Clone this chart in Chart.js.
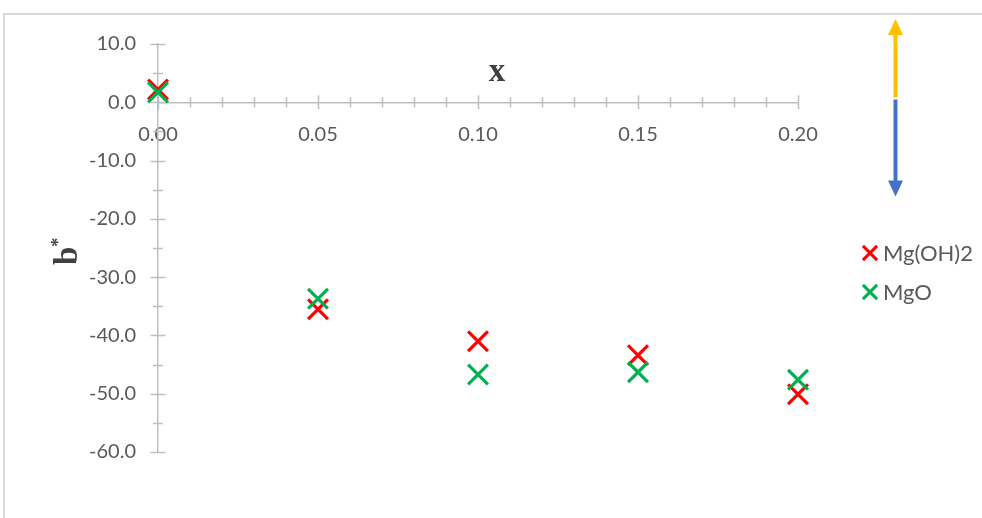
<!DOCTYPE html>
<html>
<head>
<meta charset="utf-8">
<script src="https://cdn.jsdelivr.net/npm/chart.js@4/dist/chart.umd.min.js"></script>
<style>
  html, body { margin: 0; padding: 0; background: #fff; }
  #wrap { position: relative; width: 982px; height: 518px; overflow: hidden; }
  #frame { position: absolute; left: 3px; top: 13px; width: 1100px; height: 700px;
           border-top: 2px solid #d9d9d9; border-left: 2px solid #d9d9d9; }
  #c { position: absolute; left: 0; top: 0; }
</style>
</head>
<body>
<div id="wrap">
  <div id="frame"></div>
  <canvas id="c" width="982" height="518"></canvas>
</div>
<script>
// Composition x and colour coordinate b* for the two magnesium sources
const xValues   = [0.00, 0.05, 0.10, 0.15, 0.20];
const mgOH2     = [2.2, -35.5, -41.0, -43.4, -50.1];
const mgO       = [1.7, -33.7, -46.7, -46.3, -47.6];
const seriesNames = ['Mg(OH)2', 'MgO'];
const seriesColors = ['#FF0000', '#00B050'];

// Axis tick labels
const xTickValues = [0.00, 0.05, 0.10, 0.15, 0.20];
const yTickValues = [10, 0, -10, -20, -30, -40, -50, -60];

const AXIS_COLOR = '#BFBFBF';
const TEXT_COLOR = '#595959';
const TICK_FONT = { family: 'Lato', size: 20 };

function toPoints(xs, ys) {
  return xs.map((x, i) => ({ x: x, y: ys[i] }));
}

// Crossing tick marks (major + minor) on both axes, axis titles, legend and arrows
const decorations = {
  id: 'decorations',
  afterDatasetsDraw(chart) {
    const ctx = chart.ctx;
    const xs = chart.scales.x, ys = chart.scales.y;
    const x0 = xs.getPixelForValue(0);
    const y0 = ys.getPixelForValue(0);
    ctx.save();
    ctx.strokeStyle = AXIS_COLOR;
    ctx.lineWidth = 1.5;
    ctx.beginPath();
    // y axis: major every 10, minor every 5
    for (let v = ys.min; v <= ys.max + 1e-9; v += 5) {
      const p = Math.round(ys.getPixelForValue(v)) + 0.5;
      const half = (Math.abs(v) % 10 === 0) ? 7.5 : 5;
      ctx.moveTo(x0 - half, p);
      ctx.lineTo(x0 + half, p);
    }
    // x axis: major every 0.05, minor every 0.01
    for (let i = 0; i <= 20; i++) {
      const p = Math.round(xs.getPixelForValue(i / 100)) + 0.5;
      const half = (i % 5 === 0) ? 7 : 5;
      ctx.moveTo(p, y0 - half);
      ctx.lineTo(p, y0 + half);
    }
    ctx.stroke();
    ctx.restore();
  },
  afterDraw(chart) {
    const ctx = chart.ctx;
    ctx.save();

    // x axis title
    ctx.fillStyle = '#404040';
    ctx.font = 'bold 33px "Liberation Serif"';
    ctx.textAlign = 'center';
    ctx.textBaseline = 'alphabetic';
    ctx.fillText('x', 497, 80.5);

    // y axis title b* (rotated, superscript star)
    ctx.save();
    ctx.translate(77, 265);
    ctx.rotate(-Math.PI / 2);
    ctx.textAlign = 'left';
    ctx.font = 'bold 33px "Liberation Serif"';
    ctx.fillText('b', 0, 0);
    const bw = ctx.measureText('b').width;
    ctx.font = 'bold 18px "Liberation Serif"';
    ctx.fillText('*', bw, -13);
    ctx.restore();

    // legend
    const ds = chart.data.datasets;
    const legendY = [253, 292];
    ds.forEach((d, i) => {
      ctx.save();
      ctx.strokeStyle = d.borderColor;
      ctx.lineWidth = 3;
      Chart.helpers.drawPoint(ctx, { pointStyle: 'crossRot', radius: 10, borderWidth: 3, rotation: 0 }, 870, legendY[i]);
      ctx.restore();
      ctx.fillStyle = TEXT_COLOR;
      ctx.font = '22px Lato';
      ctx.textAlign = 'left';
      ctx.textBaseline = 'middle';
      ctx.fillText(d.label, 883, legendY[i] + 1);
    });

    // direction arrows: yellow up, blue down
    const ax = 895.5;
    ctx.lineWidth = 4;
    ctx.strokeStyle = '#FFC000';
    ctx.fillStyle = '#FFC000';
    ctx.beginPath(); ctx.moveTo(ax, 97.5); ctx.lineTo(ax, 34); ctx.stroke();
    ctx.beginPath(); ctx.moveTo(ax, 19); ctx.lineTo(ax - 7.5, 35); ctx.lineTo(ax + 7.5, 35); ctx.closePath(); ctx.fill();
    ctx.strokeStyle = '#4472C4';
    ctx.fillStyle = '#4472C4';
    ctx.beginPath(); ctx.moveTo(ax, 99.5); ctx.lineTo(ax, 182); ctx.stroke();
    ctx.beginPath(); ctx.moveTo(ax, 196.5); ctx.lineTo(ax - 7.5, 180.5); ctx.lineTo(ax + 7.5, 180.5); ctx.closePath(); ctx.fill();

    ctx.restore();
  }
};

new Chart(document.getElementById('c'), {
  type: 'scatter',
  data: {
    datasets: [
      {
        label: seriesNames[0],
        data: toPoints(xValues, mgOH2),
        borderColor: seriesColors[0],
        backgroundColor: seriesColors[0],
        pointStyle: 'crossRot',
        pointRadius: 14,
        pointHoverRadius: 14,
        pointBorderWidth: 3.2,
        order: 1
      },
      {
        label: seriesNames[1],
        data: toPoints(xValues, mgO),
        borderColor: seriesColors[1],
        backgroundColor: seriesColors[1],
        pointStyle: 'crossRot',
        pointRadius: 14,
        pointHoverRadius: 14,
        pointBorderWidth: 3.2,
        order: 0
      }
    ]
  },
  options: {
    responsive: false,
    animation: false,
    devicePixelRatio: 1,
    clip: false,
    layout: { padding: { left: 0, top: 44, right: 184, bottom: 66 } },
    plugins: {
      legend: { display: false },
      tooltip: { enabled: false }
    },
    scales: {
      x: {
        type: 'linear',
        position: { y: 0 },
        min: 0,
        max: 0.2,
        afterBuildTicks: (s) => { s.ticks = xTickValues.map(v => ({ value: v })); },
        grid: { display: false, drawTicks: false },
        border: { display: true, color: AXIS_COLOR, width: 1.5 },
        ticks: {
          color: TEXT_COLOR,
          font: TICK_FONT,
          padding: 20,
          maxRotation: 0,
          autoSkip: false,
          callback: (v) => Number(v).toFixed(2)
        }
      },
      y: {
        type: 'linear',
        position: 'left',
        min: -60,
        max: 10,
        afterBuildTicks: (s) => { s.ticks = yTickValues.map(v => ({ value: v })); },
        afterFit: (s) => { s.width = 158; },
        grid: { display: false, drawTicks: false },
        border: { display: true, color: AXIS_COLOR, width: 1.5 },
        ticks: {
          color: TEXT_COLOR,
          font: TICK_FONT,
          padding: 22,
          autoSkip: false,
          callback: (v) => Number(v).toFixed(1)
        }
      }
    }
  },
  plugins: [decorations]
});
</script>
</body>
</html>
